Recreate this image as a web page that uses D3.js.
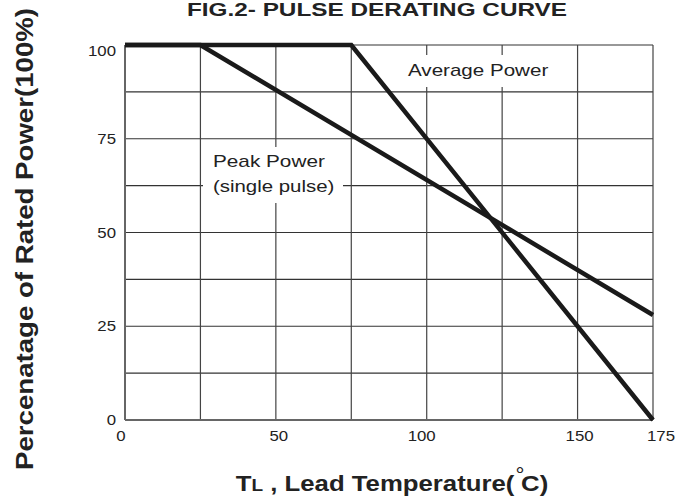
<!DOCTYPE html>
<html>
<head>
<meta charset="utf-8">
<script src="https://cdn.jsdelivr.net/npm/d3@7"></script>
<style>
  body { margin: 0; background: #fff; }
  svg { display: block; font-family: "Liberation Sans", Arial, sans-serif; }
</style>
</head>
<body>
<div id="chart"></div>
<script>
// temperature (C) vs % of rated power
var peakTemp = [0, 25, 175];
var peakPower = [100, 100, 28];
var avgTemp = [0, 75, 175];
var avgPower = [100, 100, 0];
var xTicks = [0, 50, 100, 150, 175];
var yTicks = [0, 25, 50, 75, 100];
var xGrid = [0, 25, 50, 75, 100, 125, 150, 175];
var yGrid = [0, 12.5, 25, 37.5, 50, 62.5, 75, 87.5, 100];

var W = 694, H = 502;
var pLeft = 125, pRight = 653, pTop = 45, pBottom = 420;
var STRETCH = 1.2; // source text is a bit wide

var svg = d3.select("#chart").append("svg").attr("width", W).attr("height", H);

var x = d3.scaleLinear().domain([0, 175]).range([pLeft, pRight]);
var y = d3.scaleLinear().domain([0, 100]).range([pBottom, pTop]);

// widen a text by factor k
function widen(sel, k) {
  sel.each(function() {
    var l = this.getComputedTextLength();
    d3.select(this).attr("textLength", l * k).attr("lengthAdjust", "spacingAndGlyphs");
  });
}

// grid
svg.append("g").selectAll("line").data(yGrid).enter().append("line")
  .attr("x1", pLeft).attr("x2", pRight)
  .attr("y1", function(d){ return y(d); }).attr("y2", function(d){ return y(d); })
  .style("stroke", "#333").style("stroke-width", 1.2);
svg.append("g").selectAll("line").data(xGrid).enter().append("line")
  .attr("y1", pTop).attr("y2", pBottom)
  .attr("x1", function(d){ return x(d); }).attr("x2", function(d){ return x(d); })
  .style("stroke", "#444").style("stroke-width", 1.2);
// frame bottom/left slightly heavier
svg.append("line").attr("x1", pLeft).attr("x2", pRight).attr("y1", pBottom).attr("y2", pBottom)
  .style("stroke", "#666").style("stroke-width", 2);
svg.append("line").attr("x1", pLeft).attr("x2", pLeft).attr("y1", pTop).attr("y2", pBottom)
  .style("stroke", "#666").style("stroke-width", 2);

// white boxes behind the labels, then the labels
svg.append("rect").attr("x", 402).attr("y", 55).attr("width", 152).attr("height", 32).style("fill", "#fff");
svg.append("rect").attr("x", 203).attr("y", 147).attr("width", 140).attr("height", 56).style("fill", "#fff");

widen(svg.append("text").text("Average Power").attr("x", 408).attr("y", 76)
  .attr("font-size", 17).style("fill", "#222"), 1.21);
widen(svg.append("text").text("Peak Power").attr("x", 213).attr("y", 167)
  .attr("font-size", 17).style("fill", "#222"), 1.22);
widen(svg.append("text").text("(single pulse)").attr("x", 213).attr("y", 192)
  .attr("font-size", 17).style("fill", "#222"), 1.2);

// curves
var line = d3.line().x(function(d){ return x(d[0]); }).y(function(d){ return y(d[1]); });
svg.append("path").datum(d3.zip(peakTemp, peakPower)).attr("d", line)
  .style("fill", "none").style("stroke", "#1a1a1a").style("stroke-width", 4.5);
svg.append("path").datum(d3.zip(avgTemp, avgPower)).attr("d", line)
  .style("fill", "none").style("stroke", "#1a1a1a").style("stroke-width", 4.5);

// tick labels
widen(svg.append("g").selectAll("text").data(yTicks).enter().append("text")
  .text(function(d){ return d; })
  .attr("x", 116).attr("y", function(d){ return d == 100 ? y(d) + 11 : y(d) + 5; })
  .attr("text-anchor", "end").attr("font-size", 14).style("fill", "#222"), STRETCH);
var xShift = function(d){ return d == 0 ? -4 : d == 175 ? 8 : d == 100 ? -5 : d == 50 ? 3 : 2; };
widen(svg.append("g").selectAll("text").data(xTicks).enter().append("text")
  .text(function(d){ return d; })
  .attr("x", function(d){ return x(d) + xShift(d); }).attr("y", 441)
  .attr("text-anchor", "middle").attr("font-size", 14).style("fill", "#222"), STRETCH);

// title
svg.append("text").text("FIG.2- PULSE DERATING CURVE")
  .attr("x", 187).attr("y", 16)
  .attr("textLength", 380).attr("lengthAdjust", "spacingAndGlyphs")
  .attr("font-size", 19).attr("font-weight", "bold").style("fill", "#222");

// y axis title
svg.append("text").text("Percenatage of Rated Power(100%)")
  .attr("transform", "translate(33,239) rotate(-90)")
  .attr("text-anchor", "middle")
  .attr("textLength", 462).attr("lengthAdjust", "spacingAndGlyphs")
  .attr("font-size", 24).attr("font-weight", "bold").style("fill", "#222");

// x axis title
var xt = svg.append("g").attr("transform", "translate(392,0) scale(1.12,1)")
  .append("text").attr("x", 0).attr("y", 491).attr("text-anchor", "middle")
  .attr("font-size", 23).attr("font-weight", "bold").style("fill", "#222");
xt.append("tspan").text("T");
xt.append("tspan").text("L").attr("font-size", 17);
xt.append("tspan").text(" , Lead Temperature(");
xt.append("tspan").text("°").attr("font-weight", "normal").attr("font-size", 20).attr("dy", -9).attr("dx", 1);
xt.append("tspan").text("C)").attr("dy", 9).attr("dx", -3);
</script>
</body>
</html>
